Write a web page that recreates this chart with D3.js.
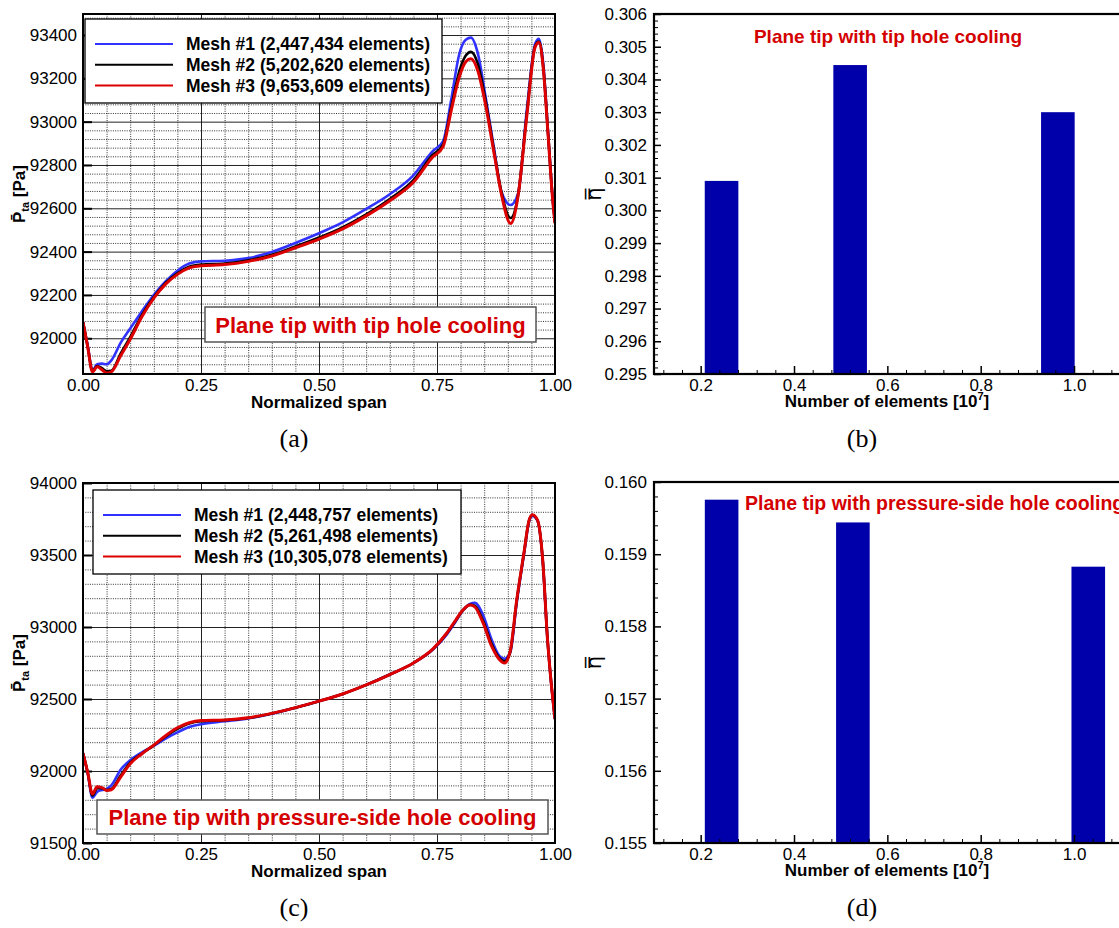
<!DOCTYPE html>
<html>
<head>
<meta charset="utf-8">
<script src="https://cdn.jsdelivr.net/npm/d3@7"></script>
<style>
  body { margin: 0; background: #fff; }
  svg { display: block; font-family: "Liberation Sans", Arial, sans-serif; }
</style>
</head>
<body>
<script>
// ---- data ----

// (a) plane tip with tip hole cooling
const spanA = [0, 0.01, 0.02, 0.03, 0.04, 0.05, 0.06, 0.08, 0.10, 0.125, 0.15, 0.175, 0.20, 0.225, 0.25, 0.30, 0.35,
  0.40, 0.45, 0.50, 0.55, 0.60, 0.65, 0.70, 0.74, 0.763, 0.78, 0.797, 0.811, 0.822, 0.836, 0.854, 0.872, 0.886,
  0.906, 0.922, 0.94, 0.958, 0.966, 0.975, 0.985, 0.995, 1.0]
const mesh1A = [92075, 91965, 91852, 91880, 91883, 91880, 91898, 91980, 92045, 92125, 92200, 92262, 92312, 92345, 92355,
  92358, 92370, 92398, 92440, 92485, 92535, 92597, 92665, 92752, 92862, 92910, 93100, 93310, 93378, 93388, 93320,
  93100, 92860, 92680, 92615, 92670, 93050, 93360, 93382, 93270, 92960, 92650, 92540]
const mesh2A = [92075, 91962, 91848, 91872, 91862, 91848, 91850, 91930, 92005, 92108, 92190, 92255, 92300, 92330, 92340,
  92345, 92360, 92385, 92424, 92465, 92512, 92572, 92643, 92730, 92845, 92895, 93065, 93230, 93305, 93322, 93270,
  93085, 92850, 92680, 92555, 92665, 93030, 93350, 93370, 93255, 92955, 92645, 92533]
const mesh3A = [92075, 91960, 91845, 91868, 91855, 91840, 91845, 91920, 91995, 92100, 92185, 92250, 92295, 92325, 92335,
  92340, 92355, 92380, 92418, 92458, 92505, 92565, 92635, 92720, 92835, 92885, 93050, 93205, 93277, 93290, 93238,
  93065, 92840, 92670, 92530, 92660, 93020, 93345, 93365, 93250, 92950, 92640, 92530]
const legendA = ['Mesh #1 (2,447,434 elements)', 'Mesh #2 (5,202,620 elements)', 'Mesh #3 (9,653,609 elements)']

// (c) plane tip with pressure-side hole cooling
const spanC = [0, 0.01, 0.02, 0.03, 0.04, 0.05, 0.06, 0.08, 0.10, 0.125, 0.15, 0.175, 0.20, 0.225, 0.25, 0.30, 0.35,
  0.40, 0.45, 0.50, 0.55, 0.60, 0.65, 0.70, 0.742, 0.77, 0.79, 0.805, 0.82, 0.83, 0.848, 0.866, 0.882, 0.893,
  0.905, 0.919, 0.934, 0.945, 0.952, 0.963, 0.974, 0.984, 0.99, 1.0]
const mesh1C = [92124, 91985, 91815, 91855, 91868, 91876, 91900, 92010, 92075, 92130, 92175, 92225, 92268, 92305, 92325,
  92345, 92365, 92398, 92440, 92485, 92535, 92598, 92670, 92750, 92845, 92945, 93040, 93115, 93160, 93168, 93080,
  92910, 92800, 92780, 92820, 93170, 93500, 93730, 93772, 93738, 93460, 92920, 92680, 92360]
const mesh2C = [92124, 91988, 91830, 91880, 91880, 91868, 91875, 91970, 92058, 92122, 92178, 92240, 92292, 92330, 92345,
  92352, 92368, 92399, 92440, 92485, 92535, 92598, 92670, 92750, 92848, 92952, 93046, 93117, 93155, 93148, 93040,
  92880, 92785, 92762, 92828, 93185, 93508, 93738, 93778, 93740, 93463, 92920, 92680, 92360]
const mesh3C = [92124, 91990, 91840, 91890, 91885, 91865, 91870, 91960, 92050, 92120, 92180, 92245, 92300, 92335, 92350,
  92355, 92370, 92400, 92440, 92485, 92535, 92598, 92670, 92750, 92850, 92955, 93050, 93118, 93152, 93140, 93025,
  92865, 92775, 92750, 92830, 93190, 93510, 93740, 93780, 93742, 93465, 92920, 92680, 92360]
const legendC = ['Mesh #1 (2,448,757 elements)', 'Mesh #2 (5,261,498 elements)', 'Mesh #3 (10,305,078 elements)']

// (b), (d) area-averaged effectiveness vs number of elements [10^7]
const elementsB = [0.2447434, 0.5202620, 0.9653609]
const etaB = [0.30090, 0.30444, 0.30300]
const elementsD = [0.2448757, 0.5261498, 1.0305078]
const etaD = [0.159755, 0.159440, 0.158827]

// tick labels
const spanTicks = [0, 0.25, 0.5, 0.75, 1]
const yTicksA = [92000, 92200, 92400, 92600, 92800, 93000, 93200, 93400]
const yTicksC = [91500, 92000, 92500, 93000, 93500, 94000]
const elemTicks = [0.2, 0.4, 0.6, 0.8, 1.0]
const yTicksB = [0.295, 0.296, 0.297, 0.298, 0.299, 0.300, 0.301, 0.302, 0.303, 0.304, 0.305, 0.306]
const yTicksD = [0.155, 0.156, 0.157, 0.158, 0.159, 0.160]

// ---- drawing ----
const width = 1119,
  height = 928

const font = '"Liberation Sans", Arial, sans-serif'
const blue = '#3232ff', red = '#dc0000', barColor = '#0000aa', noteRed = '#d40000'
const seriesColors = [blue, '#000', red]

const svg = d3.select('body').append('svg')
  .attr('width', width)
  .attr('height', height)

let styleTicks = (sel, size) => {
  sel.attr('font-family', font)
  sel.select('.domain').remove()
  sel.selectAll('text').attr('font-size', size).attr('fill', '#000')
}

let gridAxis = (g, axis, transform, color, dash) => {
  g.append('g')
    .attr('transform', transform)
    .call(axis.tickFormat(''))
    .call(s => {
      s.select('.domain').remove()
      s.selectAll('line').attr('stroke', color).attr('stroke-dasharray', dash)
    })
}

let linePanel = (p) => {
  let g = svg.append('g')
  let x = d3.scaleLinear().domain([0, 1]).range([p.left, p.right])
  let y = d3.scaleLinear().domain(p.yDomain).range([p.bottom, p.top])
  let w = p.right - p.left, h = p.bottom - p.top

  // grid
  let minorX = d3.range(1, 20).filter(i => i % 5).map(i => i / 20)
  let minorY = d3.range(Math.ceil(p.yDomain[0] / p.minorStep), Math.floor(p.yDomain[1] / p.minorStep) + 1)
    .map(i => i * p.minorStep)
    .filter(v => p.yTicks.indexOf(v) < 0)
  gridAxis(g, d3.axisBottom(x).tickValues(minorX).tickSize(-h), `translate(0,${p.bottom})`, '#333', '1,1.3')
  gridAxis(g, d3.axisLeft(y).tickValues(minorY).tickSize(-w), `translate(${p.left},0)`, '#333', '1,1.3')
  gridAxis(g, d3.axisBottom(x).tickValues(spanTicks).tickSize(-h), `translate(0,${p.bottom})`, '#222', null)
  gridAxis(g, d3.axisLeft(y).tickValues(p.yTicks).tickSize(-w), `translate(${p.left},0)`, '#222', null)

  // inward ticks
  g.append('g').attr('transform', `translate(${p.left},0)`)
    .call(d3.axisLeft(y).tickValues(p.yTicks).tickSize(-9).tickFormat(''))
    .call(s => { s.select('.domain').remove(); s.selectAll('line').attr('stroke-width', 2) })

  // curves
  let clipId = 'clip' + p.id
  g.append('clipPath').attr('id', clipId)
    .append('rect').attr('x', p.left).attr('y', p.top).attr('width', w).attr('height', h)
  let line = d3.line().x(d => x(d[0])).y(d => y(d[1])).curve(d3.curveMonotoneX)
  p.series.forEach((vals, k) => {
    g.append('path')
      .datum(p.span.map((s, i) => [s, vals[i]]))
      .attr('clip-path', `url(#${clipId})`)
      .attr('fill', 'none')
      .attr('stroke', seriesColors[k])
      .attr('stroke-width', k === 2 ? 3 : 2.6)
      .attr('stroke-linejoin', 'round')
      .attr('d', line)
  })

  // frame
  g.append('rect')
    .attr('x', p.left).attr('y', p.top).attr('width', w).attr('height', h)
    .attr('fill', 'none').attr('stroke', '#000').attr('stroke-width', 2)

  // legend
  let lg = g.append('g')
  lg.append('rect')
    .attr('x', p.legend.x).attr('y', p.legend.y).attr('width', p.legend.w).attr('height', p.legend.h)
    .attr('fill', '#fff').attr('stroke', '#000').attr('stroke-width', 1.3)
  p.legendText.forEach((t, k) => {
    let ly = p.legend.y + 25 + k * 20.8
    lg.append('line')
      .attr('x1', p.legend.x + 10).attr('x2', p.legend.x + 88)
      .attr('y1', ly).attr('y2', ly)
      .attr('stroke', seriesColors[k]).attr('stroke-width', 2)
    lg.append('text')
      .attr('x', p.legend.x + 101).attr('y', ly + 6)
      .attr('font-size', 17.5).attr('font-weight', 'bold')
      .text(t)
  })

  // note box
  g.append('rect')
    .attr('x', p.note.x).attr('y', p.note.y).attr('width', p.note.w).attr('height', p.note.h)
    .attr('fill', '#fff').attr('stroke', '#555').attr('stroke-width', 1.5)
  g.append('text')
    .attr('x', p.note.x + p.note.w / 2).attr('y', p.note.y + p.note.h / 2 + 8)
    .attr('text-anchor', 'middle')
    .attr('font-size', 22).attr('font-weight', 'bold').attr('fill', noteRed)
    .text(p.note.text)

  // axes labels
  g.append('g').attr('transform', `translate(${p.left},0)`)
    .call(d3.axisLeft(y).tickValues(p.yTicks).tickSize(0).tickPadding(6).tickFormat(d3.format('d')))
    .call(s => styleTicks(s, 17))
  g.append('g').attr('transform', `translate(0,${p.bottom})`)
    .call(d3.axisBottom(x).tickValues(spanTicks).tickSize(0).tickPadding(5).tickFormat(d3.format('.2f')))
    .call(s => styleTicks(s, 17))

  g.append('text')
    .attr('x', (p.left + p.right) / 2).attr('y', p.bottom + 34)
    .attr('text-anchor', 'middle')
    .attr('font-size', 17).attr('font-weight', 'bold')
    .text('Normalized span')

  g.append('text')
    .attr('transform', `translate(25,${(p.top + p.bottom) / 2}) rotate(-90)`)
    .attr('text-anchor', 'middle')
    .attr('font-size', 17).attr('font-weight', 'bold')
    .call(t => {
      t.append('tspan').text('P\u0304')
      t.append('tspan').attr('dy', 4).attr('font-size', 11).text('ta')
      t.append('tspan').attr('dy', -4).text(' [Pa]')
    })

  g.append('text')
    .attr('x', p.captionX).attr('y', p.bottom + 73)
    .attr('text-anchor', 'middle')
    .attr('font-family', '"Liberation Serif", "Times New Roman", serif')
    .attr('font-size', 26)
    .text(p.caption)
}

let barPanel = (p) => {
  let g = svg.append('g')
  let x = d3.scaleLinear().domain([0.1, 1.1]).range([p.left, p.right])
  let y = d3.scaleLinear().domain(p.yDomain).range([p.bottom, p.top])
  let w = p.right - p.left, h = p.bottom - p.top
  let halfBar = 0.036

  g.selectAll('rect.bar')
    .data(p.elements.map((e, i) => [e, p.eta[i]]))
    .enter()
    .append('rect')
    .attr('class', 'bar')
    .attr('x', d => x(d[0] - halfBar))
    .attr('width', d => x(d[0] + halfBar) - x(d[0] - halfBar))
    .attr('y', d => y(d[1]))
    .attr('height', d => y(p.yDomain[0]) - y(d[1]))
    .attr('fill', barColor)

  // minor / major inward ticks
  let minorX = d3.range(3, 28).map(i => i * 0.04).filter(v => Math.abs(v * 5 - Math.round(v * 5)) > 1e-6)
  let minorY = d3.range(0, 5 * (p.yTicks.length - 1) + 1).map(i => p.yDomain[0] + i * 0.0002)
    .filter((v, i) => i % 5)
  g.append('g').attr('transform', `translate(0,${p.bottom})`)
    .call(d3.axisBottom(x).tickValues(minorX).tickSize(-4).tickFormat(''))
    .call(s => s.select('.domain').remove())
  g.append('g').attr('transform', `translate(0,${p.bottom})`)
    .call(d3.axisBottom(x).tickValues(elemTicks).tickSize(-8).tickPadding(5).tickFormat(d3.format('.1f')))
    .call(s => { styleTicks(s, 17); s.selectAll('line').attr('stroke-width', 1.5) })
  g.append('g').attr('transform', `translate(${p.left},0)`)
    .call(d3.axisLeft(y).tickValues(minorY).tickSize(-4).tickFormat(''))
    .call(s => s.select('.domain').remove())
  g.append('g').attr('transform', `translate(${p.left},0)`)
    .call(d3.axisLeft(y).tickValues(p.yTicks).tickSize(-7).tickPadding(7).tickFormat(d3.format('.3f')))
    .call(s => { styleTicks(s, 17); s.selectAll('line').attr('stroke-width', 1.5) })

  // frame
  g.append('rect')
    .attr('x', p.left).attr('y', p.top).attr('width', w).attr('height', h)
    .attr('fill', 'none').attr('stroke', '#000').attr('stroke-width', 2.2)

  g.append('text')
    .attr('x', p.title.x).attr('y', p.title.y)
    .attr('text-anchor', p.title.anchor)
    .attr('font-size', p.title.size).attr('font-weight', 'bold').attr('fill', noteRed)
    .text(p.title.text)

  g.append('text')
    .attr('x', 887).attr('y', p.bottom + 33)
    .attr('text-anchor', 'middle')
    .attr('font-size', 17).attr('font-weight', 'bold')
    .call(t => {
      t.append('tspan').text('Number of elements [10')
      t.append('tspan').attr('dy', -7).attr('font-size', 11).text('7')
      t.append('tspan').attr('dy', 7).text(']')
    })

  g.append('text')
    .attr('transform', `translate(601,${(p.top + p.bottom) / 2}) rotate(-90)`)
    .attr('text-anchor', 'middle')
    .attr('font-family', '"DejaVu Sans", sans-serif')
    .attr('font-size', 21)
    .text('\u03B7\u033F')

  g.append('text')
    .attr('x', 862).attr('y', p.bottom + 73)
    .attr('text-anchor', 'middle')
    .attr('font-family', '"Liberation Serif", "Times New Roman", serif')
    .attr('font-size', 26)
    .text(p.caption)
}

linePanel({
  id: 'a', left: 83, right: 555, top: 14, bottom: 374,
  yDomain: [91835, 93497], yTicks: yTicksA, minorStep: 40,
  span: spanA, series: [mesh1A, mesh2A, mesh3A], legendText: legendA,
  legend: { x: 85, y: 19, w: 357, h: 84 },
  note: { x: 205, y: 307, w: 331, h: 35, text: 'Plane tip with tip hole cooling' },
  caption: '(a)', captionX: 294
})

linePanel({
  id: 'c', left: 83, right: 555, top: 483, bottom: 843,
  yDomain: [91500, 94000], yTicks: yTicksC, minorStep: 100,
  span: spanC, series: [mesh1C, mesh2C, mesh3C], legendText: legendC,
  legend: { x: 93, y: 490, w: 368, h: 84 },
  note: { x: 97, y: 800, w: 451, h: 34, text: 'Plane tip with pressure-side hole cooling' },
  caption: '(c)', captionX: 294
})

barPanel({
  left: 654, right: 1120.7, top: 14, bottom: 374,
  yDomain: [0.295, 0.306], yTicks: yTicksB,
  elements: elementsB, eta: etaB,
  title: { x: 888, y: 43, anchor: 'middle', size: 19, text: 'Plane tip with tip hole cooling' },
  caption: '(b)'
})

barPanel({
  left: 654, right: 1120.7, top: 482, bottom: 843,
  yDomain: [0.155, 0.160], yTicks: yTicksD,
  elements: elementsD, eta: etaD,
  title: { x: 745, y: 510, anchor: 'start', size: 19.5, text: 'Plane tip with pressure-side hole cooling' },
  caption: '(d)'
})
</script>
</body>
</html>
